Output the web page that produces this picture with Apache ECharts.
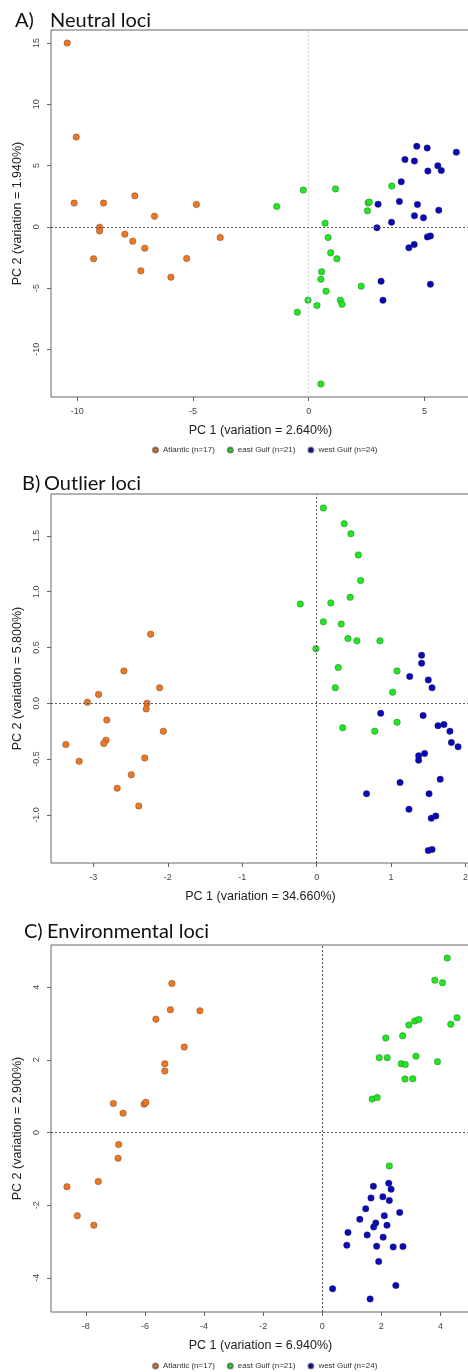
<!DOCTYPE html>
<html>
<head>
<meta charset="utf-8">
<script src="https://cdn.jsdelivr.net/npm/echarts@6/dist/echarts.min.js"></script>
<style>
  html, body { margin: 0; padding: 0; background: #fff; }
  #chart { width: 468px; height: 1372px; }
</style>
</head>
<body>
<div id="chart"></div>
<script>
// groups shared by the three PCA panels
var groupNames = ["Atlantic (n=17)", "east Gulf (n=21)", "west Gulf (n=24)"];
var groupColors = ["#EE7722", "#1EE81E", "#0808B8"];

// A) Neutral loci  [PC1, PC2]
var neutralAtlantic = [[-10.43,15.0],[-10.04,7.33],[-10.13,1.94],[-8.86,1.94],[-7.51,2.53],[-6.66,0.87],[-4.85,1.83],[-9.03,-0.03],[-9.03,-0.33],[-7.94,-0.60],[-7.60,-1.17],[-7.08,-1.74],[-9.29,-2.61],[-5.27,-2.58],[-7.25,-3.59],[-5.95,-4.11],[-3.82,-0.87]];
var neutralEastGulf = [[-1.38,1.67],[-0.23,3.0],[1.16,3.1],[0.71,0.30],[2.57,1.96],[2.62,2.02],[2.54,1.31],[3.59,3.33],[0.84,-0.87],[0.95,-2.12],[1.22,-2.61],[0.56,-3.67],[0.53,-4.27],[0.75,-5.25],[2.27,-4.84],[-0.03,-5.99],[1.37,-5.99],[1.44,-6.32],[0.36,-6.42],[-0.49,-6.97],[0.53,-12.83]];
var neutralWestGulf = [[4.67,6.57],[5.12,6.43],[6.38,6.10],[4.16,5.50],[4.57,5.37],[5.58,4.99],[5.15,4.55],[5.73,4.60],[4.0,3.68],[3.0,1.85],[3.92,2.07],[4.70,1.83],[5.62,1.36],[3.58,0.38],[4.57,0.90],[4.96,0.74],[2.95,-0.08],[5.13,-0.82],[5.26,-0.74],[4.33,-1.71],[4.56,-1.44],[3.13,-4.44],[3.21,-5.99],[5.26,-4.68]];

// B) Outlier loci
var outlierAtlantic = [[-2.23,0.62],[-2.59,0.29],[-2.11,0.14],[-2.93,0.08],[-3.08,0.01],[-2.28,0.00],[-2.29,-0.05],[-2.82,-0.15],[-2.06,-0.25],[-2.83,-0.33],[-2.86,-0.36],[-3.37,-0.37],[-3.19,-0.52],[-2.31,-0.49],[-2.49,-0.64],[-2.68,-0.76],[-2.39,-0.92]];
var outlierEastGulf = [[0.09,1.75],[0.37,1.61],[0.46,1.52],[0.56,1.33],[0.59,1.10],[0.45,0.95],[-0.22,0.89],[0.19,0.90],[0.09,0.73],[0.33,0.71],[0.42,0.58],[0.54,0.56],[0.85,0.56],[-0.01,0.49],[0.29,0.32],[1.08,0.29],[0.25,0.14],[1.02,0.10],[1.08,-0.17],[0.35,-0.22],[0.78,-0.25]];
var outlierWestGulf = [[1.41,0.43],[1.41,0.36],[1.25,0.24],[1.50,0.21],[1.55,0.14],[0.86,-0.09],[1.43,-0.11],[1.63,-0.20],[1.71,-0.19],[1.79,-0.25],[1.81,-0.35],[1.90,-0.39],[1.45,-0.45],[1.37,-0.47],[1.37,-0.51],[1.66,-0.68],[1.12,-0.71],[0.67,-0.81],[1.51,-0.81],[1.24,-0.95],[1.60,-1.01],[1.54,-1.03],[1.50,-1.32],[1.55,-1.31]];

// C) Environmental loci
var envAtlantic = [[-5.09,4.10],[-5.14,3.38],[-4.14,3.35],[-5.63,3.12],[-4.67,2.35],[-5.33,1.89],[-5.33,1.69],[-7.07,0.80],[-6.03,0.78],[-5.97,0.83],[-6.74,0.53],[-6.89,-0.33],[-6.91,-0.71],[-7.58,-1.35],[-8.64,-1.49],[-8.29,-2.29],[-7.73,-2.55]];
var envEastGulf = [[4.23,4.80],[3.81,4.19],[4.07,4.12],[4.56,3.16],[4.35,2.98],[3.13,3.07],[3.27,3.11],[2.93,2.96],[2.72,2.66],[2.15,2.60],[1.93,2.06],[2.20,2.06],[3.17,2.10],[3.90,1.95],[2.67,1.89],[2.81,1.87],[2.80,1.47],[3.06,1.48],[1.69,0.92],[1.86,0.96],[2.27,-0.92]];
var envWestGulf = [[2.25,-1.40],[1.73,-1.48],[2.33,-1.56],[1.65,-1.80],[2.05,-1.77],[2.27,-1.87],[1.47,-2.10],[2.62,-2.20],[2.10,-2.29],[1.27,-2.39],[1.81,-2.49],[1.74,-2.60],[2.19,-2.55],[0.87,-2.75],[1.52,-2.82],[2.06,-2.88],[0.83,-3.10],[1.84,-3.13],[2.40,-3.15],[2.73,-3.14],[1.91,-3.55],[0.35,-4.30],[2.49,-4.21],[1.62,-4.58]];

// tick labels
var neutralXTicks = [-10, -5, 0, 5];
var neutralYTicks = [-10, -5, 0, 5, 10, 15];
var outlierXTicks = [-3, -2, -1, 0, 1, 2];
var outlierYTicks = [-1, -0.5, 0, 0.5, 1, 1.5];
var envXTicks = [-8, -6, -4, -2, 0, 2, 4];
var envYTicks = [-4, -2, 0, 2, 4];

var panelTitles = ["A)", "Neutral loci", "B)", "Outlier loci", "C)", "Environmental loci"];
var xNames = ["PC 1 (variation = 2.640%)", "PC 1 (variation = 34.660%)", "PC 1 (variation = 6.940%)"];
var yNames = ["PC 2 (variation = 1.940%)", "PC 2 (variation = 5.800%)", "PC 2 (variation = 2.900%)"];

var panels = [
  { top: 30, height: 367, x: [-11.13, 6.97], y: [-13.89, 16.07], xt: neutralXTicks, yt: neutralYTicks, ydec: 0,
    data: [neutralAtlantic, neutralEastGulf, neutralWestGulf], vColor: "#d4d4d4" },
  { top: 494, height: 369, x: [-3.569, 2.06], y: [-1.431, 1.876], xt: outlierXTicks, yt: outlierYTicks, ydec: 1,
    data: [outlierAtlantic, outlierEastGulf, outlierWestGulf], vColor: "#555" },
  { top: 945, height: 367, x: [-9.18, 5.0], y: [-4.94, 5.16], xt: envXTicks, yt: envYTicks, ydec: 0,
    data: [envAtlantic, envEastGulf, envWestGulf], vColor: "#555" }
];

var font = "Liberation Sans";
var grids = [], xAxes = [], yAxes = [], series = [];

panels.forEach(function (p, i) {
  grids.push({ left: 51, right: -2, top: p.top, height: p.height, show: true,
    outerBoundsMode: "none", containLabel: false,
    borderColor: "#666", borderWidth: 1, backgroundColor: "transparent" });
  var yfmt = function (v) { return p.ydec ? v.toFixed(p.ydec) : String(v); };
  xAxes.push({
    type: "value", gridIndex: i, min: p.x[0], max: p.x[1],
    name: xNames[i], nameLocation: "middle", nameGap: 27,
    nameTextStyle: { fontFamily: font, fontSize: 12.5, color: "#222" },
    axisLine: { show: false, onZero: false },
    splitLine: { show: false },
    axisTick: { show: true, length: 4, customValues: p.xt, lineStyle: { color: "#666" } },
    axisLabel: { customValues: p.xt, margin: 10, fontFamily: font, fontSize: 9, color: "#444",
      formatter: function (v) { return String(v); } }
  });
  yAxes.push({
    type: "value", gridIndex: i, min: p.y[0], max: p.y[1],
    name: yNames[i], nameLocation: "middle", nameGap: 27,
    nameTextStyle: { fontFamily: font, fontSize: 12.5, color: "#222" },
    axisLine: { show: false, onZero: false },
    splitLine: { show: false },
    axisTick: { show: true, length: 4, customValues: p.yt, lineStyle: { color: "#666" } },
    axisLabel: { customValues: p.yt, rotate: 90, margin: 10, fontFamily: font, fontSize: 9, color: "#444", formatter: yfmt }
  });
  p.data.forEach(function (pts, g) {
    var s = {
      name: groupNames[g], type: "scatter", xAxisIndex: i, yAxisIndex: i,
      data: pts, symbolSize: 6.5,
      itemStyle: { color: groupColors[g], borderColor: "rgba(50,50,50,0.55)", borderWidth: 0.6, opacity: 1 }
    };
    if (g === 0) {
      s.markLine = {
        silent: true, symbol: "none", label: { show: false }, animation: false,
        data: [
          { xAxis: 0, lineStyle: { color: p.vColor, type: [2, 2], width: 1 } },
          { yAxis: 0, lineStyle: { color: "#555", type: [2, 2], width: 1 } }
        ]
      };
    }
    series.push(s);
  });
});

function legendAt(top) {
  return {
    top: top, left: 152, orient: "horizontal", icon: "circle",
    itemWidth: 5, itemHeight: 5, itemGap: 12, padding: 0,
    textStyle: { fontFamily: font, fontSize: 8, color: "#333" },
    data: groupNames
  };
}

var titleFont = "20px Lato";
var titlePos = [[15, 21], [50, 21], [22, 484], [44, 484], [24, 932], [47, 932]];
var graphics = panelTitles.map(function (t, k) {
  return { type: "text", style: { text: t, x: titlePos[k][0], y: titlePos[k][1],
    font: titleFont, fill: "#111", verticalAlign: "middle" } };
});

var chart = echarts.init(document.getElementById("chart"), null, { renderer: "canvas" });
chart.setOption({
  animation: false,
  backgroundColor: "#fff",
  color: groupColors,
  grid: grids,
  xAxis: xAxes,
  yAxis: yAxes,
  legend: [legendAt(446), legendAt(1362)],
  graphic: graphics,
  series: series
});
</script>
</body>
</html>
